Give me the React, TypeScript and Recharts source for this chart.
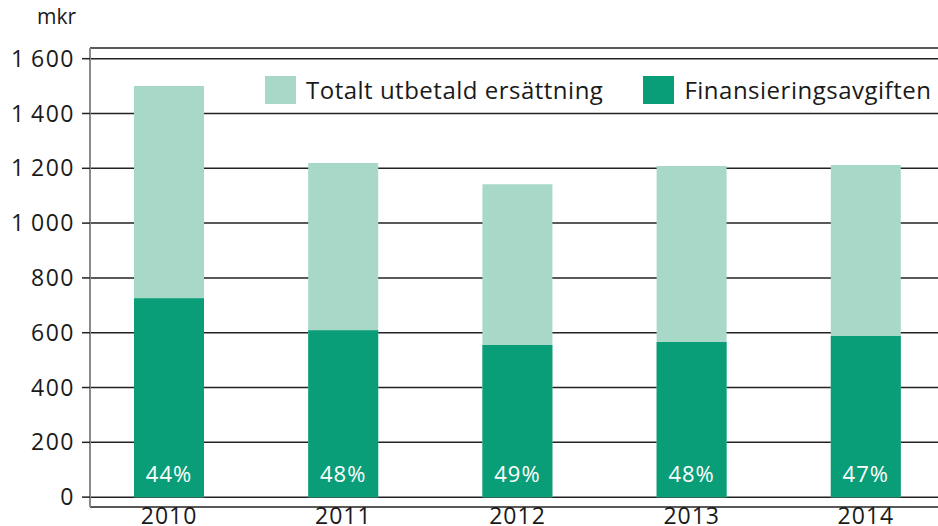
import { BarChart, Bar, XAxis, YAxis, CartesianGrid, LabelList } from "recharts";

const years = ["2010", "2011", "2012", "2013", "2014"];
const totalPaid = [1500, 1219, 1142, 1208, 1212];
const financingFee = [726, 609, 555, 566, 588];
const feeShare = ["44%", "48%", "49%", "48%", "47%"];
const yTicks = [0, 200, 400, 600, 800, 1000, 1200, 1400, 1600];
const seriesNames = ["Totalt utbetald ersättning", "Finansieringsavgiften"];

const LIGHT = "#A8D8C8";
const DARK = "#0A9E78";
const FONT = "'Open Sans', 'Noto Sans', sans-serif";

const chartData = years.map((year, i) => ({
  year,
  total: totalPaid[i],
  fee: financingFee[i],
  pct: feeShare[i],
}));

const formatTick = (v: number) =>
  v >= 1000 ? `${Math.floor(v / 1000)}\u2009${String(v % 1000).padStart(3, "0")}` : String(v);

function ChartLegend() {
  const colors = [LIGHT, DARK];
  return (
    <div
      style={{
        position: "absolute",
        left: 265,
        top: 73,
        display: "flex",
        alignItems: "center",
        fontFamily: FONT,
        fontSize: 24,
        letterSpacing: 0.5,
        color: "#1a1a1a",
        zIndex: 2,
        whiteSpace: "nowrap",
      }}
    >
      {seriesNames.map((label, i) => (
        <div key={label} style={{ display: "flex", alignItems: "center", marginLeft: i ? 40 : 0 }}>
          <span style={{ width: 31, height: 28, background: colors[i], display: "inline-block", marginRight: 10 }} />
          <span>{label}</span>
        </div>
      ))}
    </div>
  );
}

function PctLabel(props: any) {
  const { x, y, width, height, value } = props;
  return (
    <text
      x={x + width / 2}
      y={y + height - 15}
      fill="#fff"
      fontSize={22}
      fontFamily={FONT}
      letterSpacing={1}
      textAnchor="middle"
    >
      {value}
    </text>
  );
}

export default function App() {
  return (
    <div style={{ position: "fixed", left: 0, top: 0, width: 938, height: 526, overflow: "hidden", background: "#fff" }}>
      <div style={{ position: "absolute", left: 37, top: 2, fontFamily: FONT, fontSize: 21, color: "#1a1a1a" }}>mkr</div>
      <ChartLegend />
      <BarChart
        width={953}
        height={526}
        data={chartData}
        margin={{ top: 48, right: 0, bottom: 0, left: 0 }}
        barSize={70}
        barGap={-70}
      >
        <CartesianGrid vertical={false} stroke="#222" strokeWidth={1.5} />
        <XAxis
          dataKey="year"
          axisLine={false}
          tickLine={false}
          tickSize={0}
          tickMargin={1}
          height={19}
          padding={{ left: -8, right: 0 }}
          tick={{ fill: "#1a1a1a", fontSize: 23, fontFamily: FONT, fontWeight: 500, letterSpacing: 1 }}
        />
        <YAxis
          width={90}
          domain={[-36, 1639]}
          ticks={yTicks}
          tickFormatter={formatTick}
          axisLine={{ stroke: "#8a8a8a", strokeWidth: 2 }}
          tickLine={{ stroke: "#222", strokeWidth: 1.5 }}
          tickSize={8}
          tickMargin={7}
          tick={{ fill: "#1a1a1a", fontSize: 23, fontFamily: FONT, letterSpacing: 1.5 }}
          allowDataOverflow
        />
        <Bar dataKey="total" name={seriesNames[0]} fill={LIGHT} isAnimationActive={false} />
        <Bar dataKey="fee" name={seriesNames[1]} fill={DARK} isAnimationActive={false}>
          <LabelList dataKey="pct" content={<PctLabel />} />
        </Bar>
      </BarChart>
    </div>
  );
}
